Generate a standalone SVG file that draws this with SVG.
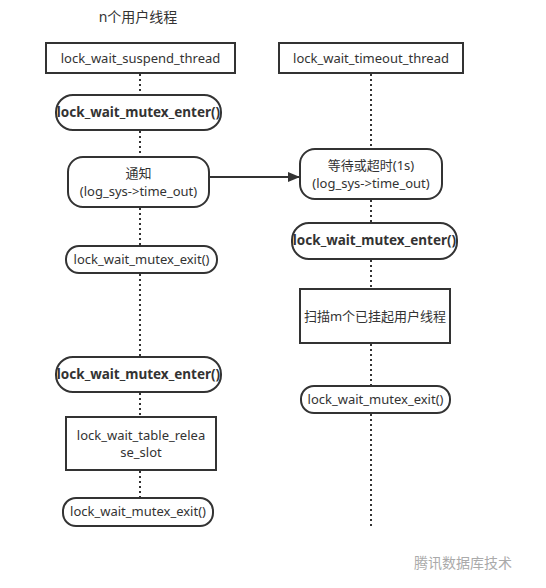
<svg xmlns="http://www.w3.org/2000/svg" width="546" height="588" viewBox="0 0 546 588">
<style>
text{font-family:"Noto Sans","Noto Sans CJK SC",sans-serif;fill:#333;font-size:13px;text-anchor:middle}
.b{font-weight:bold;font-size:13.5px}
.t{font-size:14px}
.box{fill:#fff;stroke:#333;stroke-width:2}
.life{stroke:#333;stroke-width:2;stroke-dasharray:2 3;fill:none}
.wm{fill:#aaa;font-size:14px}
</style>
<defs>
<marker id="ah" viewBox="0 0 12 10" refX="12" refY="5" markerWidth="12" markerHeight="10" markerUnits="userSpaceOnUse" orient="auto">
<path d="M0,0L12,5L0,10z" fill="#333"/>
</marker>
</defs>
<rect width="546" height="588" fill="#fff"/>
<text class="t" x="138" y="22">n个用户线程</text>
<g id="connectors">
<path class="life" d="M140,74V95M140,131V157M140,208V246M140,274V357M140,393V417M140,471V498"/>
<path class="life" d="M371,74V149M371,200V223M371,260V289M371,344V386M371,414V526"/>
<line x1="209" y1="177" x2="300" y2="177" stroke="#333" stroke-width="2" marker-end="url(#ah)"/>
</g>
<g id="suspend"><rect class="box" x="46" y="43" width="189" height="30"/><text x="140.5" y="63">lock_wait_suspend_thread</text></g>
<g id="timeout"><rect class="box" x="279" y="43" width="184" height="30"/><text x="371" y="63">lock_wait_timeout_thread</text></g>
<g id="enter1"><rect class="box" x="56" y="95" width="165" height="35" rx="17"/><text class="b" x="138.5" y="117">lock_wait_mutex_enter()</text></g>
<g id="notify"><rect class="box" x="68" y="157" width="141" height="50" rx="15"/><text x="138.5" y="178">通知</text><text x="138.5" y="196">(log_sys-&gt;time_out)</text></g>
<g id="wait"><rect class="box" x="300" y="149" width="142" height="50" rx="15"/><text x="371" y="170">等待或超时(1s)</text><text x="371" y="188">(log_sys-&gt;time_out)</text></g>
<g id="enter2"><rect class="box" x="292" y="223" width="165" height="36" rx="17"/><text class="b" x="374.5" y="245">lock_wait_mutex_enter()</text></g>
<g id="exit1"><rect class="box" x="66" y="246" width="151" height="27" rx="13"/><text x="141.5" y="264">lock_wait_mutex_exit()</text></g>
<g id="scan"><rect class="box" x="300" y="289" width="150" height="54"/><text x="375" y="321">扫描m个已挂起用户线程</text></g>
<g id="enter3"><rect class="box" x="56" y="357" width="165" height="35" rx="17"/><text class="b" x="138.5" y="379">lock_wait_mutex_enter()</text></g>
<g id="exit2"><rect class="box" x="301" y="386" width="149" height="27" rx="13"/><text x="375.5" y="404">lock_wait_mutex_exit()</text></g>
<g id="release"><rect class="box" x="66" y="417" width="150" height="53"/><text x="141" y="440">lock_wait_table_relea</text><text x="141" y="457">se_slot</text></g>
<g id="exit3"><rect class="box" x="63" y="498" width="150" height="28" rx="13"/><text x="138" y="516">lock_wait_mutex_exit()</text></g>
<text class="wm" x="463" y="568">腾讯数据库技术</text>
</svg>
